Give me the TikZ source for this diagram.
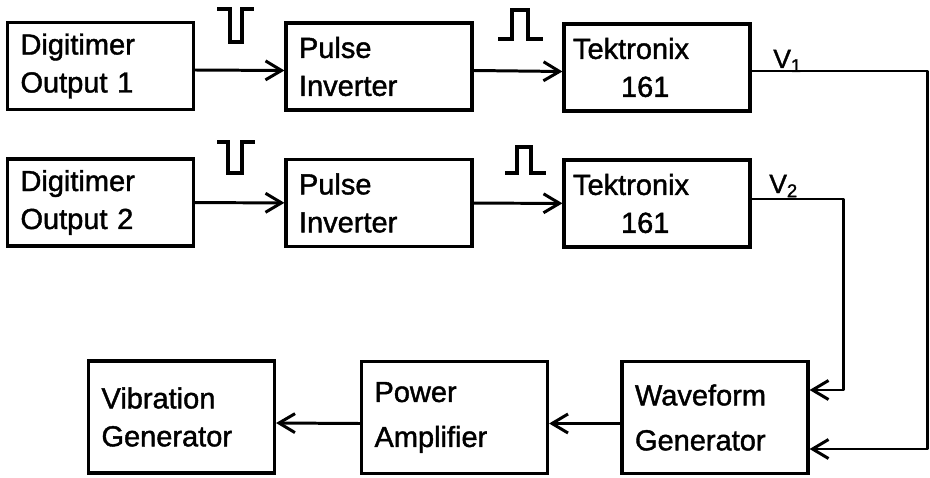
\documentclass[tikz,border=0pt]{standalone}
\usepackage{fontspec}
\setmainfont{Liberation Sans}[FakeBold=1.4]
\usepackage{tikz}
\usetikzlibrary{arrows.meta}

\begin{document}
\begin{tikzpicture}[
    every node/.style={font=\fontsize{16.5}{21.6}\selectfont},
    blk/.style={draw, line width=1.8pt, minimum width=3.72cm, minimum height=1.74cm,
                text width=3.2cm, inner xsep=0.26cm, align=left},     % bloc
    blkbig/.style={blk, minimum height=2.24cm},                          % bloc du bas
    wire/.style={line width=1.7pt, line join=round},
    sig/.style={wire, -{Straight Barb[length=3.2mm, width=3.8mm, line width=1.7pt]}},
    pulse/.style={line width=1.8pt, line join=miter},
    vlab/.style={anchor=base west, inner sep=0pt, font=\fontsize{15}{18}\selectfont}
  ]
  \useasboundingbox (0,0) rectangle (18.6,-9.56);

  % ============ voie 1 ===================================================
  \node[blk] (dig1) at (2.01,-1.32) {Digitimer\\Output 1};
  \node[blk] (inv1) at (7.58,-1.33) {Pulse\\Inverter};
  \node[blk, inner xsep=0.18cm, text width=3.36cm] (tek1) at (13.14,-1.35) {Tektronix\\\hspace*{0.96cm}161};
  \draw[sig] ([yshift=-0.8mm]dig1.east) -- ([yshift=-0.8mm]inv1.west);
  \draw[sig] ([yshift=-0.8mm]inv1.east) -- ([yshift=-0.8mm]tek1.west);

  \draw[pulse] (4.34,-0.18) -- (4.60,-0.18) -- (4.60,-0.84) -- (4.84,-0.84) -- (4.84,-0.18) -- (5.08,-0.18);
  \draw[pulse] (9.96,-0.78) -- (10.24,-0.78) -- (10.24,-0.20) -- (10.56,-0.20) -- (10.56,-0.78) -- (10.86,-0.78);

  % ============ voie 2 ===================================================
  \node[blk] (dig2) at (2.01,-4.05) {Digitimer\\Output 2};
  \node[blk] (inv2) at (7.58,-4.06) {Pulse\\Inverter};
  \node[blk, inner xsep=0.18cm, text width=3.36cm] (tek2) at (13.14,-4.07) {Tektronix\\\hspace*{0.96cm}161};
  \draw[sig] (dig2) -- (inv2);
  \draw[sig] (inv2) -- (tek2);

  \draw[pulse] (4.34,-2.84) -- (4.56,-2.84) -- (4.56,-3.46) -- (4.84,-3.46) -- (4.84,-2.84) -- (5.10,-2.84);
  \draw[pulse] (10.10,-3.46) -- (10.34,-3.46) -- (10.34,-2.94) -- (10.62,-2.94) -- (10.62,-3.46) -- (10.92,-3.46);

  % ============ chaine de sortie =========================================
  \node[blkbig] (vib) at (3.63,-8.34) {Vibration\\Generator};
  \node[blkbig] (pow) at (9.09,-8.35) {Power\\[4pt]Amplifier};
  \node[blkbig] (wav) at (14.30,-8.35) {Waveform\\[4pt]Generator};
  \draw[sig] ([yshift=-1.2mm]wav.west) -- ([yshift=-1.2mm]pow.east);
  \draw[sig] ([yshift=-1.2mm]pow.west) -- ([yshift=-1.2mm]vib.east);

  % ============ retours V1 et V2 =========================================
  \coordinate (v1r) at (18.54,-1.42);
  \coordinate (v1b) at (18.54,-8.98);
  \coordinate (v2r) at (16.86,-3.98);
  \coordinate (v2b) at (16.86,-7.80);

  \draw[sig] (tek1.east |- v1r) -- (v1r) -- (v1b) -- (wav.east |- v1b);
  \draw[sig] (tek2.east |- v2r) -- (v2r) -- (v2b) -- (wav.east |- v2b);

  \node[vlab] (v1) at (15.46,-1.36) {V\textsubscript{1}};
  \node[vlab] (v2) at (15.38,-3.86) {V\textsubscript{2}};

\end{tikzpicture}
\end{document}
